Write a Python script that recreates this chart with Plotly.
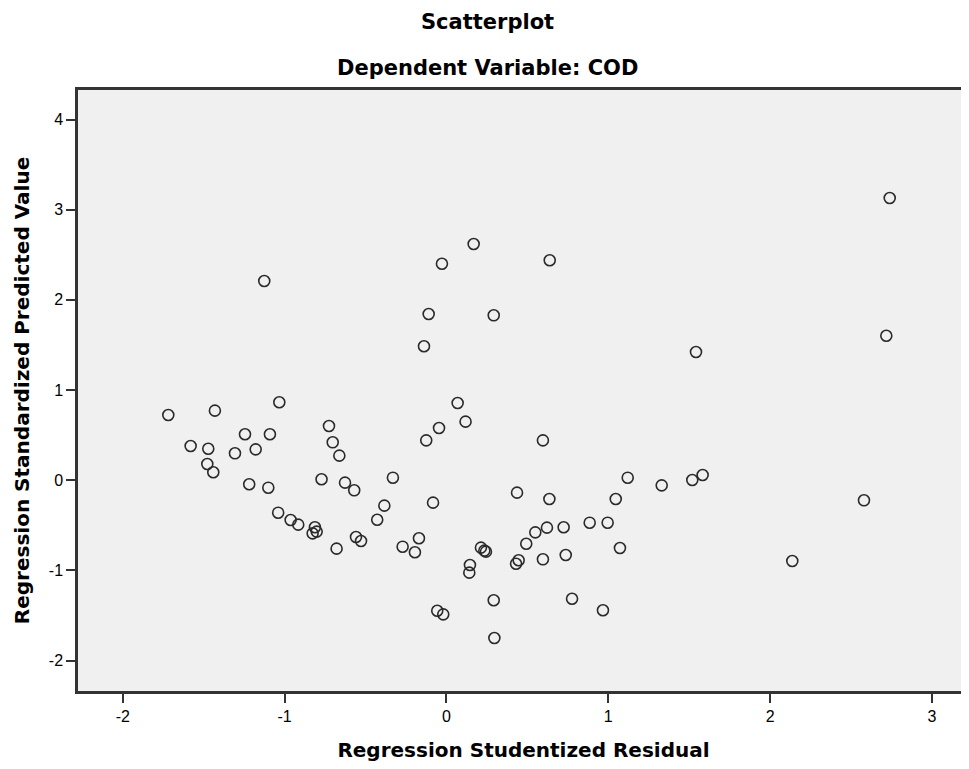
import plotly.graph_objects as go

# Regression Studentized Residual (x) and Regression Standardized Predicted Value (y)
residual = [
    -1.719, -1.431, -1.033, -1.581, -1.472, -1.307, -1.245, -1.179, -1.091, -1.478,
    -1.441, -1.219, -1.101, -1.040, -0.963, -0.916, -1.126, 0.069, -0.726, -0.703,
    -0.662, -0.046, 0.118, -0.125, 0.596, -0.772, -0.627, -0.570, -0.331, -0.384,
    -0.428, -0.083, -0.813, -0.827, -0.802, -0.679, -0.559, -0.528, -0.271, -0.195,
    -0.170, 0.436, 0.636, 1.120, 1.046, 1.330, 0.213, 0.234, 0.244, 0.145,
    0.141, 0.493, 0.549, 0.621, 0.724, 0.885, 0.996, 1.072, 0.446, 0.430,
    0.596, 0.737, 0.292, 0.776, 0.967, -0.057, -0.020, 0.296, 0.168, -0.028,
    0.638, -0.110, 0.292, -0.139, 2.739, 2.718, 1.542, 1.519, 1.583, 2.580,
    2.137,
]
predicted = [
    0.724, 0.772, 0.865, 0.380, 0.350, 0.299, 0.510, 0.343, 0.510, 0.181,
    0.089, -0.044, -0.082, -0.359, -0.440, -0.492, 2.209, 0.857, 0.602, 0.421,
    0.273, 0.580, 0.650, 0.443, 0.443, 0.011, -0.026, -0.111, 0.029, -0.281,
    -0.437, -0.248, -0.521, -0.588, -0.569, -0.758, -0.629, -0.673, -0.736, -0.798,
    -0.643, -0.137, -0.207, 0.029, -0.207, -0.056, -0.747, -0.780, -0.791, -0.939,
    -1.024, -0.703, -0.577, -0.525, -0.521, -0.470, -0.470, -0.751, -0.887, -0.925,
    -0.876, -0.828, -1.330, -1.313, -1.441, -1.446, -1.486, -1.748, 2.620, 2.401,
    2.439, 1.844, 1.829, 1.486, 3.130, 1.603, 1.422, 0.003, 0.059, -0.222,
    -0.895,
]
x_ticks = [-2, -1, 0, 1, 2, 3]
y_ticks = [-2, -1, 0, 1, 2, 3, 4]

title_font = dict(family="DejaVu Sans", size=21, color="#000000")
axis_title_font = dict(family="DejaVu Sans", size=20, color="#000000")
tick_font = dict(family="Liberation Sans, Arial", size=16, color="#000000")

fig = go.Figure()
fig.add_trace(go.Scatter(
    x=residual, y=predicted, mode="markers",
    marker=dict(symbol="circle", size=11, color="rgba(0,0,0,0)",
                line=dict(color="#2a2a2a", width=1.6)),
    showlegend=False, hoverinfo="x+y",
))

# the page body adds an 8px offset, so the figure is sized 8px smaller
fig.update_layout(
    width=961, height=761,
    paper_bgcolor="#FFFFFF", plot_bgcolor="#F0F0F0",
    margin=dict(l=70, r=0, t=82, b=78),
    xaxis=dict(
        range=[-2.277, 3.229], tickvals=x_ticks, ticktext=[str(v) for v in x_ticks],
        showgrid=False, zeroline=False, showline=True, linecolor="#333333", linewidth=2.5,
        mirror=True, ticks="outside", ticklen=9, tickwidth=2, tickcolor="#333333",
        tickfont=tick_font, automargin=False,
        title=dict(text="<b>Regression Studentized Residual</b>", font=axis_title_font, standoff=20),
    ),
    yaxis=dict(
        range=[-2.336, 4.327], tickvals=y_ticks, ticktext=[str(v) for v in y_ticks],
        showgrid=False, zeroline=False, showline=True, linecolor="#333333", linewidth=2.5,
        mirror=False, ticks="outside", ticklen=9, tickwidth=2, tickcolor="#333333",
        tickfont=tick_font, automargin=False,
        title=dict(text="<b>Regression Standardized Predicted Value</b>", font=axis_title_font, standoff=14),
    ),
    annotations=[
        dict(text="<b>Scatterplot</b>", xref="paper", yref="paper", x=0.46, y=1,
             xanchor="center", yanchor="middle", yshift=68, showarrow=False, font=title_font),
        dict(text="<b>Dependent Variable: COD</b>", xref="paper", yref="paper", x=0.46, y=1,
             xanchor="center", yanchor="middle", yshift=22, showarrow=False, font=title_font),
    ],
)

fig.write_html("out.html")
